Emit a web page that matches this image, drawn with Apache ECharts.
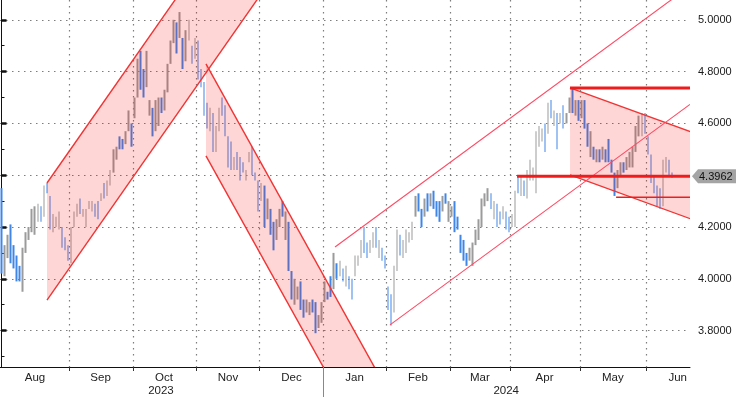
<!DOCTYPE html>
<html>
<head>
<meta charset="utf-8">
<script src="https://cdn.jsdelivr.net/npm/echarts@6/dist/echarts.min.js"></script>
<style>
  html, body { margin: 0; padding: 0; background: #fff; }
  #chart { width: 736px; height: 398px; }
</style>
</head>
<body>
<div id="chart"></div>
<script>
// daily bars, one per trading day, index 0 = first bar on the left
const highs = [
  4.35, 4.13, 4.17, 4.21, 4.13, 4.09, 4.05, 4.12, 4.18, 4.20,
  4.27, 4.28, 4.29, 4.28, 4.36, 4.37, 4.32, 4.25, 4.24, 4.26,
  4.20, 4.16, 4.13, 4.20, 4.26, 4.29, 4.31, 4.27, 4.27, 4.30,
  4.30, 4.29, 4.30, 4.33, 4.37, 4.38, 4.42, 4.50, 4.51, 4.55,
  4.54, 4.57, 4.65, 4.60, 4.70, 4.85, 4.88, 4.81, 4.88, 4.69,
  4.66, 4.69, 4.70, 4.70, 4.73, 4.83, 4.92, 5.00, 4.99, 5.03,
  4.93, 4.96, 5.00, 4.90, 4.93, 4.92, 4.81, 4.76, 4.68, 4.66,
  4.64, 4.59, 4.66, 4.70, 4.67, 4.55, 4.53, 4.47, 4.49, 4.47,
  4.45, 4.42, 4.49, 4.51, 4.41, 4.38, 4.37, 4.36, 4.31, 4.27,
  4.22, 4.23, 4.27, 4.30, 4.26, 4.22, 4.03, 4.00, 3.97, 3.99,
  3.92, 3.92, 3.91, 3.92, 3.91, 3.86, 3.91, 3.99, 3.95, 4.01,
  4.10, 4.06, 4.07, 4.04, 4.05, 4.01, 4.00, 4.09, 4.09, 4.15,
  4.20, 4.14, 4.15, 4.18, 4.20, 4.15, 4.12, 4.09, 3.97, 3.94,
  4.05, 4.19, 4.17, 4.15, 4.19, 4.18, 4.22, 4.32, 4.33, 4.27,
  4.31, 4.33, 4.33, 4.34, 4.30, 4.30, 4.32, 4.33, 4.30, 4.28,
  4.30, 4.24, 4.17, 4.15, 4.10, 4.12, 4.14, 4.19, 4.23, 4.31,
  4.33, 4.35, 4.33, 4.30, 4.29, 4.26, 4.28, 4.26, 4.24, 4.25,
  4.34, 4.40, 4.40, 4.38, 4.42, 4.46, 4.43, 4.57, 4.59, 4.58,
  4.60, 4.68, 4.69, 4.65, 4.64, 4.64, 4.67, 4.64, 4.70, 4.74,
  4.69, 4.69, 4.69, 4.69, 4.60, 4.57, 4.51, 4.50, 4.50, 4.51,
  4.50, 4.54, 4.46, 4.41, 4.42, 4.45, 4.45, 4.47, 4.49, 4.51,
  4.59, 4.63, 4.64, 4.64, 4.55, 4.48, 4.40, 4.36, 4.35, 4.46,
  4.47, 4.46, 4.41
];
const lows = [
  4.02, 4.01, 4.08, 4.06, 4.04, 3.99, 3.99, 3.95, 4.10, 4.15,
  4.18, 4.17, 4.22, 4.22, 4.24, 4.33, 4.19, 4.18, 4.20, 4.19,
  4.12, 4.11, 4.07, 4.06, 4.20, 4.24, 4.25, 4.24, 4.20, 4.27,
  4.26, 4.24, 4.23, 4.30, 4.31, 4.32, 4.36, 4.41, 4.46, 4.50,
  4.50, 4.52, 4.57, 4.51, 4.62, 4.70, 4.73, 4.70, 4.74, 4.63,
  4.55, 4.57, 4.59, 4.64, 4.65, 4.72, 4.83, 4.91, 4.87, 4.93,
  4.81, 4.84, 4.92, 4.83, 4.85, 4.77, 4.74, 4.63, 4.58, 4.57,
  4.49, 4.49, 4.57, 4.63, 4.55, 4.43, 4.42, 4.42, 4.42, 4.38,
  4.41, 4.38, 4.45, 4.40, 4.38, 4.26, 4.30, 4.20, 4.23, 4.17,
  4.11, 4.15, 4.20, 4.24, 4.15, 4.03, 3.92, 3.90, 3.92, 3.88,
  3.85, 3.87, 3.86, 3.87, 3.79, 3.81, 3.83, 3.91, 3.92, 3.93,
  3.96, 4.00, 4.01, 3.99, 3.97, 3.96, 3.92, 4.01, 4.05, 4.08,
  4.10, 4.08, 4.10, 4.12, 4.12, 4.08, 4.07, 4.04, 3.88, 3.82,
  3.87, 4.03, 4.09, 4.08, 4.10, 4.14, 4.15, 4.24, 4.26, 4.20,
  4.24, 4.26, 4.28, 4.27, 4.24, 4.22, 4.26, 4.29, 4.22, 4.24,
  4.18, 4.19, 4.10, 4.07, 4.05, 4.07, 4.05, 4.13, 4.15, 4.20,
  4.28, 4.30, 4.27, 4.23, 4.20, 4.21, 4.23, 4.19, 4.18, 4.20,
  4.20, 4.33, 4.32, 4.32, 4.31, 4.38, 4.38, 4.33, 4.51, 4.53,
  4.49, 4.56, 4.62, 4.59, 4.50, 4.60, 4.58, 4.60, 4.64, 4.64,
  4.63, 4.61, 4.62, 4.58, 4.51, 4.47, 4.46, 4.45, 4.45, 4.46,
  4.45, 4.45, 4.41, 4.32, 4.35, 4.40, 4.41, 4.42, 4.43, 4.43,
  4.49, 4.55, 4.55, 4.56, 4.48, 4.37, 4.33, 4.28, 4.27, 4.28,
  4.41, 4.40, 4.39
];
// u = up day (grey bar), d = down day (blue bar)
const dirs = [
  'duudddduuu', 'uuududduuu', 'ddduuuduuu', 'udduduuuud', 'duuduudduu',
  'duuduuuudu', 'duududdddu', 'duuddddudd', 'duudddudud', 'duududduud',
  'duudduuudd', 'udududduuu', 'dduududddd', 'uuduuuuudd', 'ududdduduu',
  'ddddduuuuu', 'uududduddu', 'ududuuuuuu', 'dudududuud', 'ududdududu',
  'dddduuduuu', 'uuuddddddu', 'udd'
].join('');
const lastPrice = 4.3962;

// x axis: bar index of the first trading day of each month
const monthStarts = [23, 44, 65, 86, 107, 128, 149, 169, 192, 214];
const monthNames = ['Aug', 'Sep', 'Oct', 'Nov', 'Dec', 'Jan', 'Feb', 'Mar', 'Apr', 'May', 'Jun'];
const monthCenters = [11.1, 32.8, 53.8, 75, 96, 116.9, 137.9, 158.4, 179.8, 202.4, 223.9];
const yearNames = ['2023', '2024'];
const yearCenters = [52.8, 167.1];
const yearStart = 107;

// y axis
const yMajor = [3.8, 4.0, 4.2, 4.4, 4.6, 4.8, 5.0];
const yLabelled = [3.8, 4.0, 4.2, 4.6, 4.8, 5.0];
const yMinor = [3.7, 3.8, 3.9, 4.0, 4.1, 4.2, 4.3, 4.4, 4.5, 4.6, 4.7, 4.8, 4.9, 5.0];

// shaded channels: [startBar, endBar, lowerAtStart, upperAtStart, slopePerBar]
const channels = [
  [15.06, 120, 3.918, 4.370, 0.01667],
  [67.7, 160, 4.475, 4.830, -0.02099],
  [188.24, 240, 4.401, 4.737, -0.004244]
];
// thin rising trend lines: [startBar, valueAtStart]
const trendLines = [[110.43, 4.123], [128.64, 3.822]];
const trendSlope = 0.00857;
// horizontal levels: [startBar, value]
const thickLevels = [[188.24, 4.737], [170.7, lastPrice]];
const thinLevels = [[203.5, 4.315]];

const xMin = -0.5, xMax = 227.97;
const yMin = 3.6595, yMax = 5.0765;
const FONT = 'Liberation Sans, Arial, sans-serif';
const dotted = { color: '#7d7d7d', width: 1.2, type: [1.5, 4.5] };

const candles = highs.map((h, i) => {
  const l = lows[i];
  return dirs[i] === 'u' ? [i, l, h, l, h] : [i, h, l, l, h];
});

function renderChannel(params, api) {
  const x0 = api.value(0), x1 = api.value(1);
  const lo = api.value(2), up = api.value(3), k = api.value(4);
  const run = x1 - x0;
  const a = api.coord([x0, lo]);
  const b = api.coord([x1, lo + k * run]);
  const c = api.coord([x1, up + k * run]);
  const d = api.coord([x0, up]);
  const edge = { stroke: '#f03434', lineWidth: 1.4 };
  return {
    type: 'group',
    children: [
      { type: 'polygon', shape: { points: [a, b, c, d] }, style: { fill: 'rgba(255,0,0,0.16)' } },
      { type: 'line', shape: { x1: a[0], y1: a[1], x2: b[0], y2: b[1] }, style: edge },
      { type: 'line', shape: { x1: d[0], y1: d[1], x2: c[0], y2: c[1] }, style: edge }
    ]
  };
}

function lineRenderer(slope, stroke, width) {
  return function (params, api) {
    const x0 = api.value(0), v = api.value(1);
    const p = api.coord([x0, v]);
    const q = api.coord([xMax, v + slope * (xMax - x0)]);
    return {
      type: 'line',
      shape: { x1: p[0], y1: p[1], x2: q[0], y2: q[1] },
      style: { stroke: stroke, lineWidth: width }
    };
  };
}

const chart = echarts.init(document.getElementById('chart'));
chart.setOption({
  animation: false,
  backgroundColor: '#fff',
  grid: { left: 0, right: 46, top: 0, bottom: 31, containLabel: false },
  xAxis: [
    {
      type: 'value', min: xMin, max: xMax,
      axisLine: { show: true, onZero: false, lineStyle: { color: '#111', width: 1 } },
      axisTick: { show: true, length: 4, customValues: monthStarts.map(s => s - 0.5), lineStyle: { color: '#333' } },
      axisLabel: {
        customValues: monthCenters, margin: 5, color: '#222', fontFamily: FONT, fontSize: 11.5,
        formatter: v => monthNames[monthCenters.indexOf(v)] || ''
      },
      splitLine: { show: true, lineStyle: dotted }
    },
    {
      type: 'value', min: xMin, max: xMax, position: 'bottom', offset: 0,
      axisLine: { show: false },
      axisTick: { show: true, length: 30, customValues: [yearStart - 0.5], lineStyle: { color: '#888' } },
      axisLabel: {
        customValues: yearCenters, margin: 18, color: '#222', fontFamily: FONT, fontSize: 11.5,
        formatter: v => yearNames[yearCenters.indexOf(v)] || ''
      },
      splitLine: { show: false }
    }
  ],
  yAxis: [
    {
      type: 'value', position: 'right', min: yMin, max: yMax,
      axisLine: { show: true, lineStyle: { color: '#111', width: 1 } },
      axisTick: { show: true, length: 3, customValues: yMinor, lineStyle: { color: '#111' } },
      axisLabel: {
        customValues: yLabelled, margin: 8, color: '#1a1a1a', fontFamily: FONT, fontSize: 11,
        formatter: v => v.toFixed(4)
      },
      splitLine: { show: false }
    },
    {
      type: 'value', position: 'right', offset: 0, min: yMin, max: yMax,
      axisLine: { show: false },
      axisTick: { show: true, length: 5, customValues: yMajor, lineStyle: { color: '#111', width: 2.5 } },
      axisLabel: { show: false },
      splitLine: { show: true, lineStyle: dotted }
    }
  ],
  series: [
    {
      type: 'candlestick', name: 'bars', z: 2,
      xAxisIndex: 0, yAxisIndex: 0,
      encode: { x: 0, y: [1, 2, 3, 4] },
      barWidth: 2,
      itemStyle: {
        color: '#9b9b9b', color0: '#3f86e8',
        borderColor: '#9b9b9b', borderColor0: '#3f86e8', borderWidth: 0
      },
      data: candles
    },
    {
      type: 'custom', name: 'channels', z: 3, clip: true,
      encode: { x: [0, 1], y: [2, 3] },
      renderItem: renderChannel,
      data: channels
    },
    {
      type: 'custom', name: 'trend', z: 4, clip: true,
      encode: { x: 0, y: 1 },
      renderItem: lineRenderer(trendSlope, '#ff4a64', 1.1),
      data: trendLines
    },
    {
      type: 'custom', name: 'levels', z: 5, clip: true,
      encode: { x: 0, y: 1 },
      renderItem: lineRenderer(0, '#f01c1c', 3),
      data: thickLevels
    },
    {
      type: 'custom', name: 'support', z: 5, clip: true,
      encode: { x: 0, y: 1 },
      renderItem: lineRenderer(0, '#f01c1c', 1.4),
      data: thinLevels
    },
    {
      type: 'custom', name: 'last', z: 6, clip: false,
      encode: { y: 0 },
      renderItem: (params, api) => {
        const v = api.value(0);
        const p = api.coord([xMax, v]);
        const x = p[0] + 2, y = p[1];
        return {
          type: 'group',
          children: [
            { type: 'polygon', shape: { points: [[x, y], [x + 6, y - 7], [x + 46, y - 7], [x + 46, y + 7], [x + 6, y + 7]] },
              style: { fill: '#a4a4a4' } },
            { type: 'text', style: { text: v.toFixed(4), x: x + 7, y: y + 0.5, verticalAlign: 'middle',
              font: '11px ' + FONT, fill: '#111' } }
          ]
        };
      },
      data: [[lastPrice]]
    }
  ]
});
</script>
</body>
</html>
